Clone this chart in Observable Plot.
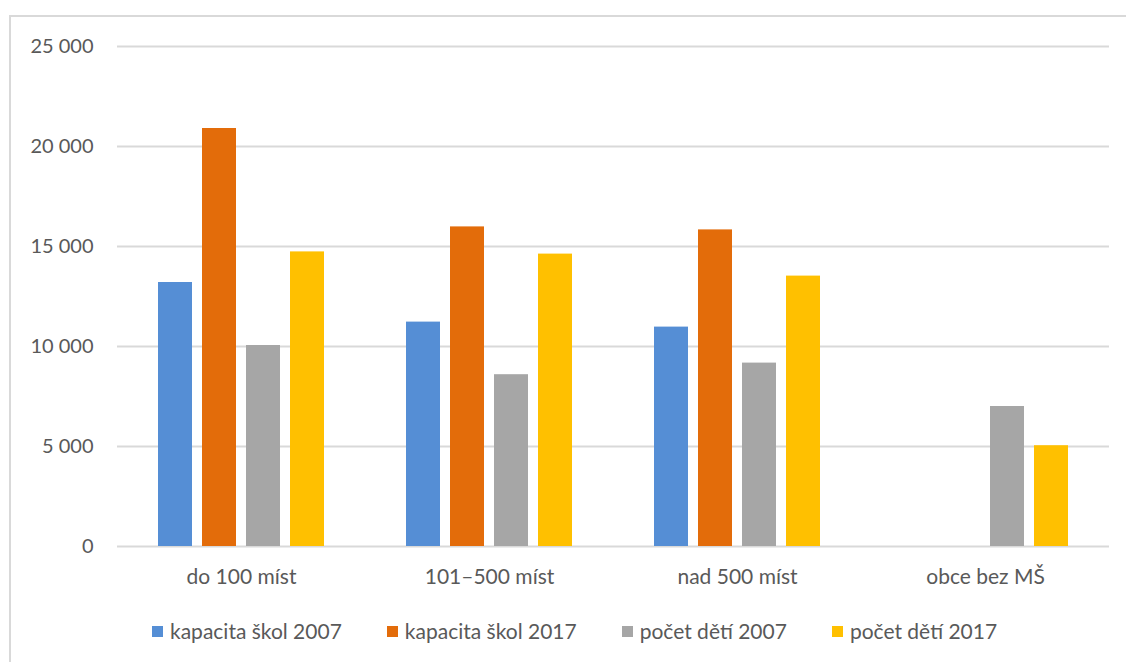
<!DOCTYPE html>
<html><head><meta charset="utf-8">
<script src="https://cdn.jsdelivr.net/npm/d3@7"></script>
<script src="https://cdn.jsdelivr.net/npm/@observablehq/plot@0.6"></script>
<style>
body{margin:0;background:#fff;font-family:Lato, sans-serif;}
#wrap{position:relative;width:1126px;height:662px;overflow:hidden;background:#fff;}
#frame{position:absolute;left:9px;top:15px;width:2000px;height:2000px;border-left:2px solid #d9d9d9;border-top:2px solid #d9d9d9;}
#chart{position:absolute;left:0;top:0;}
#legend{position:absolute;left:152px;top:618px;display:flex;gap:45px;font-size:21px;color:#595959;line-height:26px;}
#legend .item{display:flex;align-items:center;}
#legend .sw{width:11px;height:11px;margin-right:7px;display:inline-block;}
</style></head>
<body><div id="wrap"><div id="frame"></div><div id="chart"></div><div id="legend"></div></div>
<script>
const categories = ["do 100 míst", "101–500 míst", "nad 500 míst", "obce bez MŠ"];
const series = ["kapacita škol 2007", "kapacita škol 2017", "počet dětí 2007", "počet dětí 2017"];
const kapacita2007 = [13200, 11220, 10970, null];
const kapacita2017 = [20900, 15980, 15830, null];
const deti2007 = [10050, 8590, 9170, 7000];
const deti2017 = [14730, 14620, 13520, 5040];
const colors = ["#558ED5", "#E36C0A", "#A6A6A6", "#FFC000"];
const yTicks = [0, 5000, 10000, 15000, 20000, 25000];

const seriesValues = [kapacita2007, kapacita2017, deti2007, deti2017];
const data = [];
categories.forEach((c, i) => {
  series.forEach((s, j) => {
    const v = seriesValues[j][i];
    if (v != null) data.push({category: c, series: s, value: v});
  });
});

const fmt = d => d3.format(",")(d).replace(/,/g, "\u00a0");

const chart = Plot.plot({
  width: 1126,
  height: 600,
  marginLeft: 115,
  marginRight: 16,
  marginTop: 46,
  marginBottom: 54,
  style: {fontFamily: "Lato, sans-serif", fontSize: "21px", color: "#595959", background: "transparent", overflow: "visible"},
  fx: {domain: categories, padding: 0, label: null, tickSize: 0, tickPadding: 23, axis: "bottom"},
  x: {domain: series, axis: null, paddingInner: 0.22, paddingOuter: 0.91},
  y: {domain: [0, 25000], ticks: yTicks, tickFormat: fmt, label: null, tickSize: 0, tickPadding: 24},
  color: {domain: series, range: colors},
  marks: [
    Plot.ruleY(yTicks, {stroke: "#d9d9d9", strokeWidth: 2}),
    Plot.barY(data, {fx: "category", x: "series", y: "value", fill: "series"}),
    Plot.axisY({ticks: yTicks, tickFormat: fmt, tickSize: 0, tickPadding: 24, fontSize: 20, label: null})
  ]
});
document.getElementById("chart").appendChild(chart);

const legend = document.getElementById("legend");
series.forEach((s, j) => {
  const item = document.createElement("div");
  item.className = "item";
  const sw = document.createElement("span");
  sw.className = "sw";
  sw.style.background = colors[j];
  const t = document.createElement("span");
  t.textContent = s;
  item.appendChild(sw);
  item.appendChild(t);
  legend.appendChild(item);
});
</script>
</body></html>
